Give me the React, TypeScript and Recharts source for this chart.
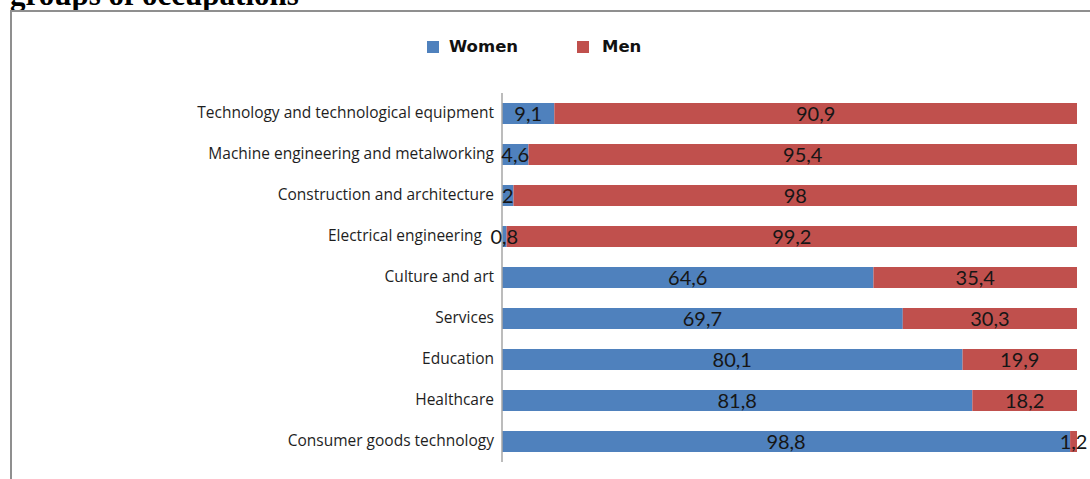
import { Bar, BarChart, LabelList, XAxis, YAxis } from 'recharts';

// Share of women and men by groups of occupations, percent
const categories = [
  'Technology and technological equipment',
  'Machine engineering and metalworking',
  'Construction and architecture',
  'Electrical engineering',
  'Culture and art',
  'Services',
  'Education',
  'Healthcare',
  'Consumer goods technology',
];
const women = [9.1, 4.6, 2, 0.8, 64.6, 69.7, 80.1, 81.8, 98.8];
const men = [90.9, 95.4, 98, 99.2, 35.4, 30.3, 19.9, 18.2, 1.2];

const WOMEN_COLOR = '#4F81BD';
const MEN_COLOR = '#C0504D';

const data = categories.map((name, i) => ({ name, women: women[i], men: men[i] }));

const fmt = (v: any) => String(v).replace('.', ',');

const labelStyle = { fill: '#161616', fontSize: 20, fontFamily: 'Lato, sans-serif' };

// category tick; pushes the text left when a tiny first segment's value label
// spills over the axis (otherwise they overlap)
function CategoryTick(props: any) {
  const { x, y, payload, index } = props;
  const spill = women[index] < 1 ? 12 : 0;
  return (
    <text
      x={x - spill}
      y={y}
      dy={-2}
      textAnchor="end"
      dominantBaseline="central"
      fill="#1e1e1e"
      fontSize={15.5}
      fontFamily='"Open Sans", sans-serif'
    >
      {payload.value}
    </text>
  );
}

export default function App() {
  return (
    <div
      style={{
        position: 'absolute',
        left: 0,
        top: 0,
        width: 1090,
        height: 479,
        overflow: 'hidden',
        background: '#fff',
      }}
    >
      {/* title, cut off at the top like the source scan */}
      <div
        style={{
          position: 'absolute',
          left: 10,
          top: -23,
          fontFamily: '"Liberation Serif", serif',
          fontWeight: 'bold',
          fontSize: 31,
          lineHeight: '36px',
          color: '#000',
          whiteSpace: 'nowrap',
        }}
      >
        groups of occupations
      </div>

      {/* frame */}
      <div
        style={{
          position: 'absolute',
          left: 10,
          top: 10,
          width: 1100,
          height: 500,
          borderLeft: '2px solid #8f8f8f',
          borderTop: '2px solid #8f8f8f',
        }}
      />

      {/* legend */}
      <div
        style={{
          position: 'absolute',
          top: 37,
          left: 427,
          display: 'flex',
          alignItems: 'center',
          fontFamily: '"DejaVu Sans", sans-serif',
          fontWeight: 'bold',
          fontSize: 16.5,
          color: '#111',
        }}
      >
        <span style={{ width: 12, height: 12, background: WOMEN_COLOR, marginRight: 10 }} />
        <span style={{ width: 128 }}>Women</span>
        <span style={{ width: 12, height: 12, background: MEN_COLOR, marginRight: 13 }} />
        <span>Men</span>
      </div>

      <div style={{ position: 'absolute', left: 0, top: 0 }}>
        <BarChart
          width={1090}
          height={479}
          layout="vertical"
          data={data}
          margin={{ top: 93, right: 13, bottom: 17, left: 0 }}
          barCategoryGap="24.4%"
        >
          <XAxis type="number" domain={[0, 100]} hide />
          <YAxis
            type="category"
            dataKey="name"
            width={502}
            axisLine={{ stroke: '#a6a6a6', strokeWidth: 1.5 }}
            tickLine={false}
            interval={0}
            tick={<CategoryTick />}
          />
          <Bar dataKey="women" stackId="a" fill={WOMEN_COLOR} isAnimationActive={false}>
            <LabelList dataKey="women" position="center" formatter={fmt} style={labelStyle} />
          </Bar>
          <Bar dataKey="men" stackId="a" fill={MEN_COLOR} isAnimationActive={false}>
            <LabelList dataKey="men" position="center" formatter={fmt} style={labelStyle} />
          </Bar>
        </BarChart>
      </div>
    </div>
  );
}
